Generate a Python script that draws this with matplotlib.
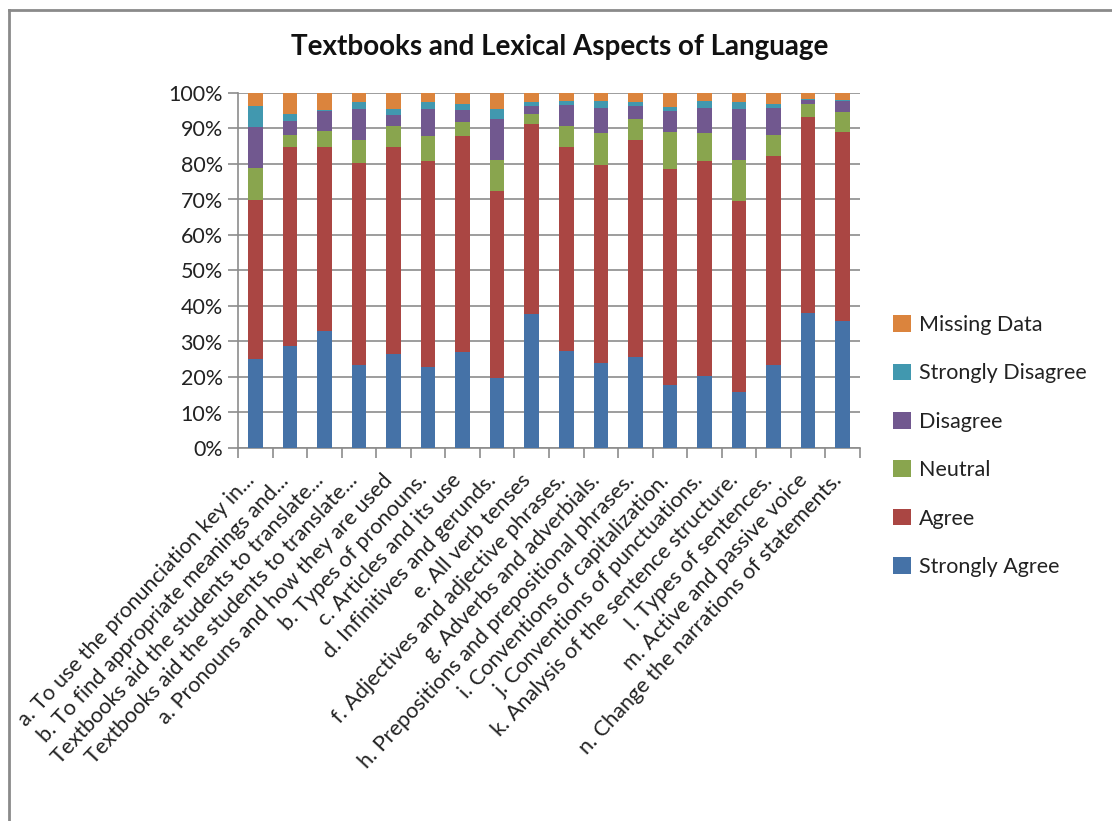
import matplotlib
matplotlib.use("Agg")
import matplotlib.pyplot as plt
from matplotlib.lines import Line2D
from matplotlib.patches import Patch
import numpy as np

plt.rcParams['font.family'] = ['Lato', 'DejaVu Sans']

categories = [
    "a. To use the pronunciation key in...",
    "b. To find appropriate meanings and...",
    "Textbooks aid the students to translate...",
    "Textbooks aid the students to translate...",
    "a. Pronouns and how they are used",
    "b. Types of pronouns.",
    "c. Articles and its use",
    "d. Infinitives and gerunds.",
    "e. All verb tenses",
    "f. Adjectives and adjective phrases.",
    "g. Adverbs and adverbials.",
    "h. Prepositions and prepositional phrases.",
    "i. Conventions of capitalization.",
    "j. Conventions of punctuations.",
    "k. Analysis of the sentence structure.",
    "l. Types of sentences.",
    "m. Active and passive voice",
    "n. Change the narrations of statements.",
]

strongly_agree    = [25.1, 28.7, 33.0, 23.3, 26.6, 22.9, 27.0, 19.7, 37.7, 27.2, 23.9, 25.5, 17.8, 20.4, 15.7, 23.3, 38.1, 35.9]
agree             = [44.8, 56.0, 51.7, 57.1, 58.1, 57.9, 61.0, 52.7, 53.6, 57.5, 55.8, 61.4, 60.8, 60.4, 53.9, 59.0, 55.2, 53.1]
neutral           = [9.0, 3.6, 4.7, 6.5, 6.1, 7.2, 3.9, 8.6, 2.8, 6.1, 8.9, 5.8, 10.4, 7.8, 11.4, 6.0, 3.6, 5.7]
disagree          = [11.6, 3.9, 5.4, 8.7, 2.9, 7.6, 3.3, 11.7, 2.1, 5.8, 7.3, 3.5, 5.8, 7.3, 14.6, 7.6, 1.1, 3.0]
strongly_disagree = [5.8, 1.9, 0.4, 1.9, 1.9, 1.9, 1.7, 2.8, 1.2, 1.1, 1.8, 1.2, 1.2, 1.8, 1.8, 1.1, 0.2, 0.4]
missing_data      = [3.7, 5.9, 4.8, 2.5, 4.4, 2.5, 3.1, 4.5, 2.6, 2.3, 2.3, 2.6, 4.0, 2.3, 2.6, 3.0, 1.8, 1.9]

series_names = ["Strongly Agree", "Agree", "Neutral", "Disagree", "Strongly Disagree", "Missing Data"]
series_values = [strongly_agree, agree, neutral, disagree, strongly_disagree, missing_data]
colors = ["#4572A7", "#AA4643", "#89A54E", "#71588F", "#4198AF", "#DB843D"]
y_ticks = [0, 10, 20, 30, 40, 50, 60, 70, 80, 90, 100]
y_tick_labels = [f"{v}%" for v in y_ticks]

W, H = 1112, 821
fig = plt.figure(figsize=(W / 100, H / 100), dpi=100)
ax = fig.add_axes([238 / W, 1 - 448 / H, (860 - 238) / W, (448 - 93) / H])

x = np.arange(len(categories))
bottom = np.zeros(len(categories))
for name, vals, c in zip(series_names, series_values, colors):
    v = np.array(vals)
    ax.bar(x, v, width=0.42, bottom=bottom, color=c, label=name, zorder=3)
    bottom += v

ax.set_xlim(-0.5, len(categories) - 0.5)
ax.set_ylim(0, 100)
ax.set_yticks(y_ticks)
ax.set_yticklabels(y_tick_labels, fontsize=15.5, color="#222222")
ax.yaxis.grid(True, color="#8c8c8c", linewidth=1.2, zorder=0)
ax.set_axisbelow(True)

ax.set_xticks(x)
ax.set_xticklabels(categories, rotation=47, ha="right", va="baseline",
                   rotation_mode="anchor", fontsize=15.6, color="#222222")
ax.tick_params(axis="x", which="major", length=0, pad=24)
ax.set_xticks(np.arange(-0.5, len(categories), 1.0), minor=True)
ax.tick_params(axis="x", which="minor", length=7, color="#8c8c8c", width=1.2)
ax.tick_params(axis="y", length=7, color="#8c8c8c", width=1.2, pad=4)

for s in ["top", "right"]:
    ax.spines[s].set_visible(False)
for s in ["left", "bottom"]:
    ax.spines[s].set_color("#8c8c8c")
    ax.spines[s].set_linewidth(1.2)

fig.text(560 / W, 1 - 47 / H, "Textbooks and Lexical Aspects of Language",
         ha="center", va="center", fontsize=20, fontweight="bold", color="#111111")

handles = [Patch(facecolor=c, label=n) for n, c in zip(series_names, colors)][::-1]
leg = fig.legend(handles=handles, loc="center left",
                 bbox_to_anchor=(874 / W, 1 - 446 / H), frameon=False,
                 fontsize=15.5, handlelength=0.8, handleheight=0.8,
                 handletextpad=0.4, labelspacing=1.32)
for t in leg.get_texts():
    t.set_color("#222222")

# chart area border (left and top visible)
fig.add_artist(Line2D([9 / W, 9 / W], [0, 1 - 10 / H], transform=fig.transFigure,
                      color="#8a8a8a", linewidth=2))
fig.add_artist(Line2D([9 / W, 1], [1 - 10 / H, 1 - 10 / H], transform=fig.transFigure,
                      color="#8a8a8a", linewidth=2))

fig.savefig("out.png", dpi=100, facecolor="white")
